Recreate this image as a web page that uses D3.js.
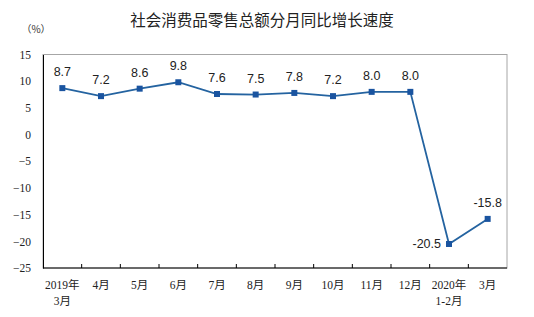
<!DOCTYPE html>
<html><head><meta charset="utf-8">
<script src="https://cdn.jsdelivr.net/npm/d3@7"></script>
<style>body{margin:0;background:#fff}svg{display:block}</style>
</head><body>
<svg id="c" width="534" height="317"></svg>
<script>
const categories = ["2019年|3月","4月","5月","6月","7月","8月","9月","10月","11月","12月","2020年|1-2月","3月"];
const values = [8.7,7.2,8.6,9.8,7.6,7.5,7.8,7.2,8.0,8.0,-20.5,-15.8];
const yTicks = [15,10,5,0,-5,-10,-15,-20,-25];
const title = "社会消费品零售总额分月同比增长速度";
const unit = "（%）";

const svg = d3.select("#c");
const m = {l:43, r:507, t:54.5, b:268};
const x = d3.scaleBand().domain(categories).range([m.l, m.r]);
const y = d3.scaleLinear().domain([-25,15]).range([m.b, m.t]);

svg.append("text").attr("x",262).attr("y",26).attr("text-anchor","middle")
  .attr("font-family","'Noto Sans CJK SC', sans-serif").attr("font-size",15.5).attr("fill","#222").text(title);
svg.append("text").attr("x",36).attr("y",33).attr("text-anchor","middle")
  .attr("font-family","'Noto Sans CJK SC', serif").attr("font-size",10).attr("fill","#333").text(unit);

// frame
svg.append("rect").attr("x",m.l).attr("y",m.t).attr("width",m.r-m.l).attr("height",m.b-m.t)
  .attr("fill","none").attr("stroke","#a6a6a6").attr("stroke-width",1);

// y axis
const ya = svg.append("g").attr("transform",`translate(${m.l},0)`)
  .call(d3.axisLeft(y).tickValues(yTicks).tickSize(0).tickPadding(12));
ya.select(".domain").attr("stroke","#000");
ya.selectAll("text").attr("font-family","'Liberation Serif', serif").attr("font-size",11.5).attr("fill","#222");

// x axis
const xa = svg.append("g").attr("transform",`translate(0,${m.b})`);
xa.append("line").attr("x1",m.l).attr("x2",m.r).attr("y1",0).attr("y2",0).attr("stroke","#000");
const bounds = categories.slice(1).map(c => x(c));
xa.selectAll("line.tk").data(bounds).enter().append("line").attr("class","tk")
  .attr("x1",d=>d).attr("x2",d=>d).attr("y1",0).attr("y2",-4).attr("stroke","#000");
categories.forEach(c => {
  const parts = c.split("|");
  const t = xa.append("text").attr("text-anchor","middle")
    .attr("font-family","'Liberation Serif','Noto Sans CJK SC', serif").attr("font-size",11.5).attr("fill","#222");
  parts.forEach((p,i) => t.append("tspan").attr("x", x(c)+x.bandwidth()/2).attr("y", 21 + i*16).text(p));
});

// line
const cx = c => x(c)+x.bandwidth()/2;
const line = d3.line().x((d,i)=>cx(categories[i])).y(d=>y(d));
svg.append("path").datum(values).attr("d",line).attr("fill","none").attr("stroke","#2463a0").attr("stroke-width",1.8);
svg.selectAll("rect.pt").data(values).enter().append("rect").attr("class","pt")
  .attr("x",(d,i)=>cx(categories[i])-3).attr("y",d=>y(d)-3).attr("width",6).attr("height",6).attr("fill","#1a54a0");

// labels
svg.selectAll("text.lb").data(values).enter().append("text").attr("class","lb")
  .attr("font-family","'Liberation Sans', Arial, sans-serif").attr("font-size",12.5).attr("fill","#222")
  .attr("text-anchor",(d,i)=> i===10 ? "end" : "middle")
  .attr("x",(d,i)=> i===10 ? cx(categories[i])-8 : cx(categories[i]))
  .attr("y",(d,i)=> i===10 ? y(d)+4 : y(d)-12)
  .text(d=>d.toFixed(1));
</script>
</body></html>
